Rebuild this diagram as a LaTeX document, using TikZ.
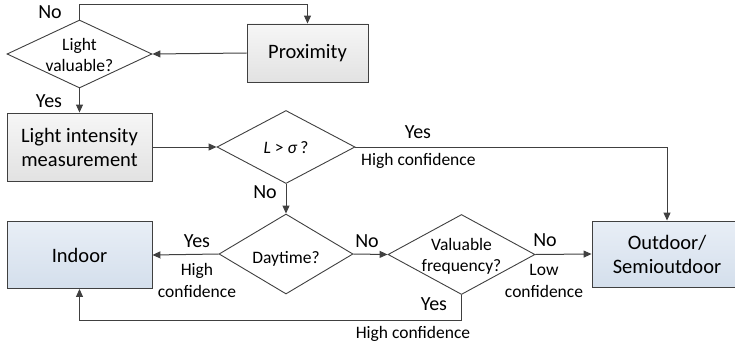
\documentclass[tikz,border=0pt]{standalone}
\usepackage{fontspec}
\setmainfont{Carlito}
\usetikzlibrary{arrows.meta,shapes.geometric}

\definecolor{linegray}{HTML}{404040}
\definecolor{graytop}{HTML}{F6F6F6}
\definecolor{graybot}{HTML}{E2E2E2}
\definecolor{bluetop}{HTML}{E8EEF6}
\definecolor{bluebot}{HTML}{D4DFEC}
% 菱形内文字不撑大形状
\newcommand{\dtext}[2][7pt]{\makebox[0pt]{\smash{\raisebox{-#1}{\begin{tabular}{@{}c@{}}#2\end{tabular}}}}}
\tikzset{
    box/.style={draw=linegray, line width=0.9pt, rectangle, align=center,
        font=\fontsize{20.5}{24}\selectfont},
    graybox/.style={box, top color=graytop, bottom color=graybot},
    bluebox/.style={box, top color=bluetop, bottom color=bluebot},
    decide/.style={draw=linegray, line width=0.9pt, diamond, fill=white, inner sep=0pt,
        font=\fontsize{17.5}{21}\selectfont},
    lbl/.style={inner sep=0pt, align=center, font=\fontsize{20}{24}\selectfont},
    slbl/.style={inner sep=0pt, align=center, font=\fontsize{17.5}{22}\selectfont},
    flow/.style={draw=linegray, line width=1pt, -{Triangle[length=8pt,width=7pt]}}
}

\begin{document}
\begin{tikzpicture}[x=1pt, y=-1pt]
    \useasboundingbox (0,0) rectangle (735,345);

    % 方框
    \node[graybox, minimum width=121, minimum height=58] (prox) at (307.5,53) {Proximity};
    \node[graybox, minimum width=145, minimum height=68] (lim) at (79.5,147) {Light intensity\\measurement};
    \node[bluebox, minimum width=145, minimum height=67] (indoor) at (79.5,255) {Indoor};
    \node[bluebox, minimum width=150, minimum height=66] (outdoor) at (667,254) {Outdoor/\\Semioutdoor};

    % 判断
    \node[decide, minimum width=145, minimum height=68] (lv) at (79.5,54) {\dtext{Light\\valuable?}};
    \node[decide, minimum width=138, minimum height=73] (lsig) at (286,147) {\dtext{\textit{L} > \textit{σ}\,?}};
    \node[decide, minimum width=134, minimum height=80] (day) at (286,254) {\dtext[10pt]{Daytime?}};
    \node[decide, minimum width=147, minimum height=80] (freq) at (461.5,254.5) {\dtext{Valuable\\frequency?}};

    % 连线
    \draw[flow] (lv.north) -- ++(0,-15) -| (prox.north);
    \draw[flow] (prox.west) -- (lv.east);
    \draw[flow] (lv.south) -- (lim.north);
    \draw[flow] (lim.east) -- (lsig.west);
    \draw[flow] (lsig.east) -| (outdoor.north);
    \draw[flow] (lsig.south) -- (day.north);
    \draw[flow] (day.west) -- (indoor.east);
    \draw[flow] (day.east) -- (freq.west);
    \draw[flow] (freq.east) -- (outdoor.west);
    \draw[flow] (freq.south) -- ++(0,26) -| (indoor.south);

    % 标注
    \node[lbl] (no1) at (50,12) {No};
    \node[lbl] (yes1) at (49,101) {Yes};
    \node[lbl] (yes2) at (418,132) {Yes};
    \node[slbl, anchor=west] (hc1) at (361,161) {High confidence};
    \node[lbl] (no2) at (265,192) {No};
    \node[lbl] (yes3) at (197,241) {Yes};
    \node[slbl] (hc2) at (197,280) {High\\confidence};
    \node[lbl] (no3) at (367,241) {No};
    \node[lbl] (no4) at (545,240) {No};
    \node[slbl] (lc) at (544,281) {Low\\confidence};
    \node[lbl] (yes4) at (434,304) {Yes};
    \node[slbl] (hc3) at (413,334) {High confidence};
\end{tikzpicture}
\end{document}
